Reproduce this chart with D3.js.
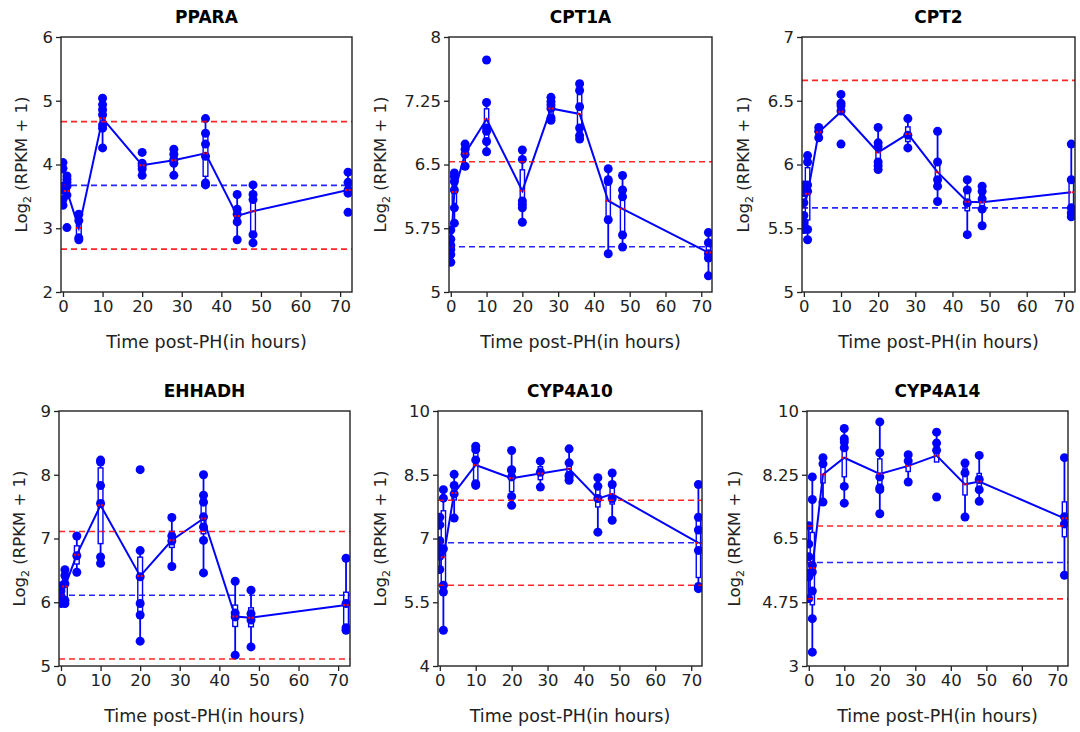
<!DOCTYPE html>
<html>
<head>
<meta charset="utf-8">
<script src="https://cdn.jsdelivr.net/npm/d3@7"></script>
<style>
  body { margin: 0; background: #fff; }
  svg text { font-family: "DejaVu Sans", sans-serif; fill: #222; }
</style>
</head>
<body>
<div id="chart"></div>
<script>
// time points (hours after partial hepatectomy)
var times = [0, 1, 4, 10, 20, 28, 36, 44, 48, 72];

var genes = ["PPARA", "CPT1A", "CPT2", "EHHADH", "CYP4A10", "CYP4A14"];

// y ticks per gene
var yTickSets = [
    [2, 3, 4, 5, 6],
    [5, 5.75, 6.5, 7.25, 8],
    [5, 5.5, 6, 6.5, 7],
    [5, 6, 7, 8, 9],
    [4, 5.5, 7, 8.5, 10],
    [3, 4.75, 6.5, 8.25, 10]
];

var xTicks = [0, 10, 20, 30, 40, 50, 60, 70];

// replicate values, log2(RPKM+1), one list per time point
var ppara = [
    [4.03, 3.94, 3.66, 3.60, 3.45, 3.36],
    [3.82, 3.77, 3.72, 3.66, 3.52, 3.01],
    [3.22, 3.12, 2.85, 2.82],
    [5.04, 4.94, 4.86, 4.78, 4.62, 4.57, 4.26],
    [4.19, 4.02, 3.98, 3.93, 3.83],
    [4.24, 4.16, 4.08, 4.02, 3.83],
    [4.72, 4.49, 4.32, 4.13, 3.71, 3.68],
    [3.53, 3.30, 3.22, 3.10, 2.82],
    [3.68, 3.53, 3.45, 2.90, 2.77],
    [3.88, 3.72, 3.60, 3.55, 3.25]
];
var cpt1a = [
    [5.73, 5.62, 5.55, 5.50, 5.44, 5.35],
    [6.40, 6.36, 6.30, 6.20, 5.99, 5.81],
    [6.74, 6.68, 6.62, 6.48],
    [7.73, 7.23, 6.93, 6.89, 6.77, 6.65],
    [6.67, 6.56, 6.07, 6.03, 5.99, 5.82],
    [7.29, 7.24, 7.20, 7.16, 7.05, 7.02],
    [7.45, 7.37, 7.18, 6.93, 6.84, 6.80],
    [6.45, 6.32, 6.30, 5.85, 5.45],
    [6.37, 6.20, 6.12, 5.67, 5.53],
    [5.70, 5.58, 5.45, 5.40, 5.19]
];
var cpt2 = [
    [5.84, 5.78, 5.70, 5.60, 5.55, 5.49],
    [6.07, 6.02, 5.84, 5.79, 5.49, 5.41],
    [6.29, 6.26, 6.21],
    [6.55, 6.48, 6.46, 6.42, 6.16],
    [6.29, 6.17, 6.14, 6.02, 5.99, 5.96],
    [6.36, 6.23, 6.13],
    [6.26, 6.02, 5.88, 5.83, 5.71],
    [5.88, 5.80, 5.70, 5.45],
    [5.83, 5.79, 5.73, 5.65, 5.52],
    [6.16, 5.88, 5.66, 5.62, 5.59]
];
var ehhadh = [
    [6.26, 6.18, 6.10, 6.03, 5.98],
    [6.51, 6.42, 6.29, 6.03, 5.98],
    [7.04, 6.73, 6.47],
    [8.23, 8.20, 7.83, 7.55, 6.71, 6.61],
    [8.08, 6.81, 6.40, 5.98, 5.80, 5.39],
    [7.33, 7.04, 6.96, 6.56],
    [8.00, 7.68, 7.57, 7.34, 7.18, 6.97, 6.46],
    [6.33, 5.83, 5.77, 5.17],
    [6.19, 5.82, 5.72, 5.30],
    [6.69, 5.98, 5.60, 5.56]
];
var cyp4a10 = [
    [7.50, 7.32, 6.95, 6.78, 6.58, 6.27],
    [8.15, 7.95, 6.76, 5.90, 5.74, 4.84],
    [8.51, 8.25, 8.05, 7.48],
    [9.17, 9.09, 8.85, 8.29, 8.25],
    [9.07, 8.62, 8.60, 8.45, 7.99, 7.78],
    [8.82, 8.56, 8.21],
    [9.11, 8.78, 8.49, 8.45, 8.37],
    [8.43, 8.23, 7.94, 7.15],
    [8.54, 8.27, 7.94, 7.43],
    [8.27, 7.50, 7.20, 6.72, 5.87, 5.82]
];
var cyp4a14 = [
    [6.85, 6.35, 6.00, 5.55, 5.45, 4.85],
    [8.19, 7.57, 5.76, 5.58, 5.06, 4.30, 3.38],
    [8.72, 8.55, 7.50],
    [9.52, 9.24, 9.15, 8.99, 7.93, 7.47],
    [9.70, 8.85, 8.19, 7.89, 7.84, 7.18],
    [8.80, 8.63, 8.05],
    [9.42, 9.12, 8.92, 7.64],
    [8.57, 8.30, 7.09],
    [8.78, 8.12, 7.84, 7.52],
    [8.72, 7.10, 6.90, 5.49]
];

var geneData = [ppara, cpt1a, cpt2, ehhadh, cyp4a10, cyp4a14];

// panel placement in the 1080x732 page
var layout = [
    {left: 61, right: 352, top: 37, bottom: 292, ylabX: 21},
    {left: 449, right: 712, top: 37, bottom: 292, ylabX: 380},
    {left: 802, right: 1075, top: 37, bottom: 292, ylabX: 743},
    {left: 59, right: 350, top: 411, bottom: 666, ylabX: 19},
    {left: 438, right: 702, top: 411, bottom: 666, ylabX: 380},
    {left: 807, right: 1068, top: 411, bottom: 666, ylabX: 734}
];

var blue = "#0000ff";
var red = "#ff0000";
var boxWidth = 1.2;   // in hours
var dotR = 4.5;

var svg = d3.select("#chart").append("svg")
    .attr("width", 1080)
    .attr("height", 732);

var fmt = function(v) { return String(+v.toFixed(2)); };

genes.forEach(function(gene, gi) {
    var L = layout[gi];
    var data = geneData[gi];
    var ticks = yTickSets[gi];

    var x = d3.scaleLinear().domain([-0.5, 73]).range([L.left, L.right]);
    var y = d3.scaleLinear().domain([ticks[0], ticks[ticks.length - 1]]).range([L.bottom, L.top]);

    var g = svg.append("g");

    var clipId = "clip" + gi;
    svg.append("clipPath").attr("id", clipId)
        .append("rect")
        .attr("x", L.left).attr("y", L.top)
        .attr("width", L.right - L.left).attr("height", L.bottom - L.top);

    var plot = g.append("g").attr("clip-path", "url(#" + clipId + ")");

    // stats per time point
    var stats = data.map(function(vals, i) {
        var s = vals.slice().sort(d3.ascending);
        var q1 = d3.quantile(s, 0.25), q3 = d3.quantile(s, 0.75);
        var iqr = q3 - q1;
        var lo = d3.min(s.filter(function(v) { return v >= q1 - 1.5 * iqr; }));
        var hi = d3.max(s.filter(function(v) { return v <= q3 + 1.5 * iqr; }));
        return {t: times[i], q1: q1, q3: q3, med: d3.quantile(s, 0.5),
                mean: d3.mean(s), lo: lo, hi: hi, vals: s};
    });

    var base = stats[0].mean;

    // boxplots
    var bx = plot.selectAll(".box").data(stats).enter().append("g");
    bx.append("line")
        .attr("x1", function(d) { return x(d.t); }).attr("x2", function(d) { return x(d.t); })
        .attr("y1", function(d) { return y(d.lo); }).attr("y2", function(d) { return y(d.q1); })
        .style("stroke", blue).style("stroke-width", 1.8);
    bx.append("line")
        .attr("x1", function(d) { return x(d.t); }).attr("x2", function(d) { return x(d.t); })
        .attr("y1", function(d) { return y(d.q3); }).attr("y2", function(d) { return y(d.hi); })
        .style("stroke", blue).style("stroke-width", 1.8);
    bx.append("rect")
        .attr("x", function(d) { return x(d.t - boxWidth / 2); })
        .attr("width", x(boxWidth) - x(0))
        .attr("y", function(d) { return y(d.q3); })
        .attr("height", function(d) { return y(d.q1) - y(d.q3); })
        .style("fill", "white")
        .style("stroke", blue).style("stroke-width", 1.4);

    // replicate dots
    stats.forEach(function(d) {
        plot.selectAll(null).data(d.vals).enter().append("circle")
            .attr("cx", x(d.t))
            .attr("cy", function(v) { return y(v); })
            .attr("r", dotR)
            .style("fill", blue);
    });

    // mean trajectory
    plot.append("path")
        .datum(stats)
        .attr("d", d3.line().x(function(d) { return x(d.t); }).y(function(d) { return y(d.mean); }))
        .style("fill", "none")
        .style("stroke", blue)
        .style("stroke-width", 2);

    // red mean marks
    plot.selectAll(".meanmark").data(stats).enter().append("line")
        .attr("x1", function(d) { return x(d.t - boxWidth * 0.6); })
        .attr("x2", function(d) { return x(d.t + boxWidth * 0.6); })
        .attr("y1", function(d) { return y(d.mean); })
        .attr("y2", function(d) { return y(d.mean); })
        .style("stroke", red).style("stroke-width", 2)
        .style("stroke-dasharray", "2,1.5");

    // baseline and +/- 1 thresholds
    [[base, blue], [base + 1, red], [base - 1, red]].forEach(function(h) {
        plot.append("line")
            .attr("x1", L.left).attr("x2", L.right)
            .attr("y1", y(h[0])).attr("y2", y(h[0]))
            .style("stroke", h[1]).style("stroke-opacity", 0.85)
            .style("stroke-width", 1.6)
            .style("stroke-dasharray", "6,4");
    });

    // axes
    var xAxis = d3.axisBottom(x).tickValues(xTicks).tickSize(5).tickPadding(3);
    var yAxis = d3.axisLeft(y).tickValues(ticks).tickSize(5).tickPadding(3).tickFormat(fmt);

    var gx = g.append("g").attr("transform", "translate(0," + L.bottom + ")").call(xAxis);
    var gy = g.append("g").attr("transform", "translate(" + L.left + ",0)").call(yAxis);
    [gx, gy].forEach(function(a) {
        a.select(".domain").remove();
        a.selectAll(".tick line").style("stroke", "#222").style("stroke-width", 1.3);
        a.selectAll(".tick text").style("font-size", "16.5px").style("fill", "#222");
    });

    // frame
    g.append("rect")
        .attr("x", L.left).attr("y", L.top)
        .attr("width", L.right - L.left).attr("height", L.bottom - L.top)
        .style("fill", "none").style("stroke", "#222").style("stroke-width", 1.4);

    // title
    g.append("text")
        .attr("x", (L.left + L.right) / 2)
        .attr("y", L.top - 14)
        .attr("text-anchor", "middle")
        .style("font-size", "17px")
        .style("font-weight", "bold")
        .style("fill", "#000")
        .text(gene);

    // x label
    g.append("text")
        .attr("x", (L.left + L.right) / 2)
        .attr("y", L.bottom + 56)
        .attr("text-anchor", "middle")
        .style("font-size", "17.5px")
        .text("Time post-PH(in hours)");

    // y label with subscript
    var yl = g.append("text")
        .attr("transform", "translate(" + L.ylabX + "," + (L.top + L.bottom) / 2 + ") rotate(-90)")
        .attr("text-anchor", "middle")
        .attr("dy", "0.35em")
        .style("font-size", "16.5px");
    yl.append("tspan").text("Log");
    yl.append("tspan").attr("dy", 4).style("font-size", "11px").text("2");
    yl.append("tspan").attr("dy", -4).text(" (RPKM + 1)");
});
</script>
</body>
</html>
